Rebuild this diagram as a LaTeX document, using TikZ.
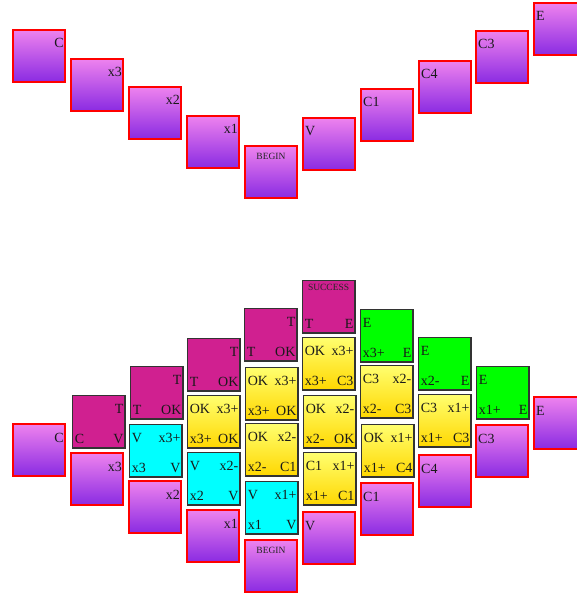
\documentclass[tikz,border=0pt]{standalone}
\usepackage{fontspec}
\setmainfont{Liberation Serif}
\definecolor{tviolet}{HTML}{EE82EE}
\definecolor{tblueviolet}{HTML}{8A2BE2}
\definecolor{tmagenta}{HTML}{D02090}
\definecolor{tcyan}{HTML}{00FFFF}
\definecolor{tgreen}{HTML}{00FF00}
\definecolor{tyeltop}{HTML}{FFFF70}
\definecolor{tgold}{HTML}{FFD700}
\definecolor{tedge}{HTML}{333333}
\tikzset{
  tilebase/.style={rectangle, inner sep=0pt, anchor=north west},
  purpletile/.style={tilebase, minimum width=52pt, minimum height=52pt, draw=red, line width=2pt, top color=tviolet, bottom color=tblueviolet},
  stackbase/.style={tilebase, minimum width=52.8pt, minimum height=52.8pt, draw=tedge, line width=1.2pt},
  magtile/.style={stackbase, fill=tmagenta},
  cyantile/.style={stackbase, fill=tcyan},
  greentile/.style={stackbase, fill=tgreen},
  yeltile/.style={stackbase, top color=tyeltop, bottom color=tgold},
  lbl/.style={inner sep=0pt, text=black!90, font=\fontsize{14}{14}\selectfont},
  smalllbl/.style={inner sep=0pt, text=black!85, font=\fontsize{9.5}{9.5}\selectfont, anchor=base},
}
\newcommand{\tilelabels}[5]{%
  \node[lbl,anchor=base west] (#1-tl) at ([shift={(3pt,-19pt)}]#1.north west) {#2};
  \node[lbl,anchor=base east] (#1-tr) at ([shift={(-2pt,-19pt)}]#1.north east) {#3};
  \node[lbl,anchor=base west] (#1-bl) at ([shift={(3pt,5pt)}]#1.south west) {#4};
  \node[lbl,anchor=base east] (#1-br) at ([shift={(-2pt,5pt)}]#1.south east) {#5};
}
\newcommand{\wtile}[8]{%
  \node[#2] (#1) at (#3,#4) {};
  \tilelabels{#1}{#5}{#6}{#7}{#8}%
}
\begin{document}
\begin{tikzpicture}[x=1pt,y=-1pt]
\useasboundingbox (0,0) rectangle (577,596);
% ---------- upper row ----------
\wtile{tC}{purpletile}{12}{29}{}{C}{}{}
\wtile{tx3}{purpletile}{70}{58}{}{x3}{}{}
\wtile{tx2}{purpletile}{128}{86}{}{x2}{}{}
\wtile{tx1}{purpletile}{186}{115}{}{x1}{}{}
\node[purpletile] (tBEGIN) at (244,145) {};
\node[smalllbl] (tBEGIN-t) at ([shift={(0pt,-14.5pt)}]tBEGIN.north) {BEGIN};
\wtile{tV}{purpletile}{302}{117}{V}{}{}{}
\wtile{tC1}{purpletile}{360}{88}{C1}{}{}{}
\wtile{tC4}{purpletile}{418}{60}{C4}{}{}{}
\wtile{tC3}{purpletile}{475}{30}{C3}{}{}{}
\wtile{tE}{purpletile}{533}{2}{E}{}{}{}
% ---------- lower row ----------
\wtile{bC}{purpletile}{12}{423}{}{C}{}{}
\wtile{bx3}{purpletile}{70}{452}{}{x3}{}{}
\wtile{bx2}{purpletile}{128}{480}{}{x2}{}{}
\wtile{bx1}{purpletile}{186}{509}{}{x1}{}{}
\node[purpletile] (bBEGIN) at (244,539) {};
\node[smalllbl] (bBEGIN-t) at ([shift={(0pt,-14.5pt)}]bBEGIN.north) {BEGIN};
\wtile{bV}{purpletile}{302}{511}{V}{}{}{}
\wtile{bC1}{purpletile}{360}{482}{C1}{}{}{}
\wtile{bC4}{purpletile}{418}{454}{C4}{}{}{}
\wtile{bC3}{purpletile}{475}{424}{C3}{}{}{}
\wtile{bE}{purpletile}{533}{396}{E}{}{}{}
% ---------- stacks ----------
% column 1
\wtile{s1a}{magtile}{71.6}{394.6}{}{T}{C}{V}
% column 2
\wtile{s2a}{cyantile}{128.6}{423.6}{V}{x3+}{x3}{V}
\wtile{s2b}{magtile}{129.6}{365.6}{}{T}{T}{OK}
% column 3
\wtile{s3a}{cyantile}{186.6}{451.6}{V}{x2-}{x2}{V}
\wtile{s3b}{yeltile}{186.6}{394.6}{OK}{x3+}{x3+}{OK}
\wtile{s3c}{magtile}{186.6}{337.6}{}{T}{T}{OK}
% column 4
\wtile{s4a}{cyantile}{244.6}{480.6}{V}{x1+}{x1}{V}
\wtile{s4b}{yeltile}{244.6}{422.6}{OK}{x2-}{x2-}{C1}
\wtile{s4c}{yeltile}{244.6}{366.6}{OK}{x3+}{x3+}{OK}
\wtile{s4d}{magtile}{243.6}{307.6}{}{T}{T}{OK}
% column 5
\wtile{s5a}{yeltile}{302.6}{451.6}{C1}{x1+}{x1+}{C1}
\wtile{s5b}{yeltile}{302.6}{394.6}{OK}{x2-}{x2-}{OK}
\wtile{s5c}{yeltile}{301.6}{336.6}{OK}{x3+}{x3+}{C3}
\node[magtile] (s5d) at (301.6,279.6) {};
\node[smalllbl] (s5d-t) at ([shift={(0pt,-10.5pt)}]s5d.north) {SUCCESS};
\node[lbl,anchor=base west] (s5d-bl) at ([shift={(3pt,5pt)}]s5d.south west) {T};
\node[lbl,anchor=base east] (s5d-br) at ([shift={(-2pt,5pt)}]s5d.south east) {E};
% column 6
\wtile{s6a}{yeltile}{360.6}{423.6}{OK}{x1+}{x1+}{C4}
\wtile{s6b}{yeltile}{359.6}{364.6}{C3}{x2-}{x2-}{C3}
\wtile{s6c}{greentile}{359.6}{308.6}{E}{}{x3+}{E}
% column 7
\wtile{s7a}{yeltile}{417.6}{393.6}{C3}{x1+}{x1+}{C3}
\wtile{s7b}{greentile}{417.6}{336.6}{E}{}{x2-}{E}
% column 8
\wtile{s8a}{greentile}{475.6}{365.6}{E}{}{x1+}{E}
\end{tikzpicture}
\end{document}
